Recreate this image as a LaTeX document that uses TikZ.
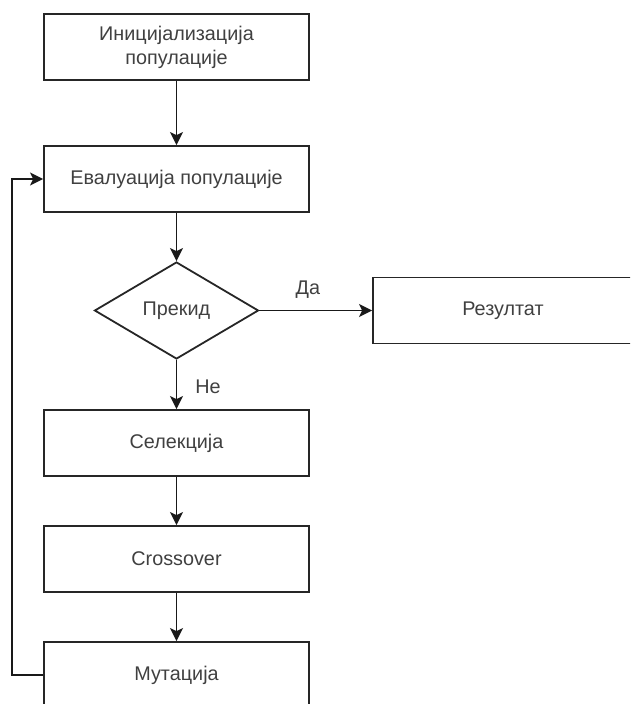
\documentclass[tikz,border=0pt]{standalone}
\usepackage{fontspec}
\setmainfont{Liberation Sans}
\usetikzlibrary{arrows.meta}
\usetikzlibrary{shapes.geometric}

\begin{document}
\begin{tikzpicture}[x=1pt, y=-1pt,
    stepbox/.style={rectangle, draw=black!85, line width=1.8pt, minimum width=265pt, minimum height=66pt, inner sep=0pt, align=center, text=black!75, font=\fontsize{19.8}{24}\selectfont},
    decision/.style={diamond, draw=black!85, line width=1.8pt, inner sep=0pt, text=black!75, font=\fontsize{19.8}{24}\selectfont},
    flow/.style={line width=1.8pt, draw=black!90, -{Stealth[length=13pt, width=13pt, inset=3pt]}},
    lbl/.style={text=black!75, font=\fontsize{19.8}{24}\selectfont, inner sep=2pt}]
  \useasboundingbox (0,0) rectangle (630,704);
  \clip (0,0) rectangle (630,704);

  % boxes
  \node[stepbox] (init) at (176.5, 47) {Иницијализација\\популације};
  \node[stepbox] (eval) at (176.5, 179) {Евалуација популације};
  \node[decision, minimum width=164pt, minimum height=97pt] (stop) at (176.5, 310.5) {Прекид};
  \node[stepbox, minimum width=260pt] (result) at (503, 310.5) {Резултат};
  \node[stepbox] (sel) at (176.5, 443) {Селекција};
  \node[stepbox] (cross) at (176.5, 559) {Crossover};
  \node[stepbox] (mut) at (176.5, 675) {Мутација};
  \coordinate (loopa) at (12, 675);
  \coordinate (loopb) at (12, 179);

  \draw[flow] (init) -- (eval);
  \draw[flow] (eval) -- (stop);
  \draw[flow] (stop.east) -- node[lbl, above=9pt, pos=0.43] {Да} (result.west);
  \draw[flow] (stop.south) -- node[lbl, right, xshift=16pt, yshift=-2pt] {Не} (sel.north);
  \draw[flow] (sel) -- (cross);
  \draw[flow] (cross) -- (mut);
  \draw[flow] (mut.west) -- (loopa) -- (loopb) -- (eval.west);
\end{tikzpicture}
\end{document}
